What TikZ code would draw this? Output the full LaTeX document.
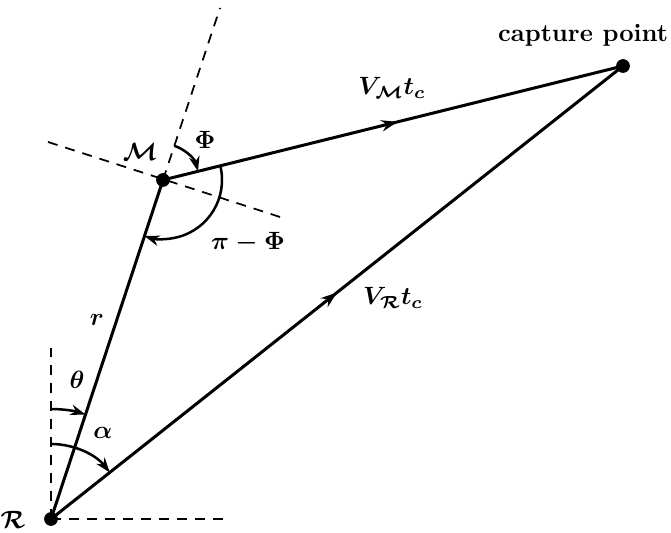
\documentclass[tikz,border=0pt]{standalone}
\usepackage{amsmath}
\usepackage{tikz}
\usetikzlibrary{arrows.meta, decorations.markings}

\begin{document}
\begin{tikzpicture}[x=0.4pt, y=0.4pt,
            % Set global font for all labels
            font=\boldmath,
            % Define reusable styles for the elements of the sketch
            leg/.style={line width=1.2pt},
            guide/.style={line width=0.7pt, dash pattern=on 4pt off 3.2pt},
            angarrow/.style={line width=1pt, -{Stealth[length=6pt, width=4.2pt]}},
            midarrow/.style={leg, postaction={decorate},
                decoration={markings, mark=at position #1 with {\arrow{Stealth[length=6.5pt, width=4.5pt]}}}},
            dot/.style={circle, fill, inner sep=0pt, minimum size=5.5pt}
        ]
        \useasboundingbox (0,0) rectangle (671,532);

        % Points of the triangle
        \node[dot] (R) at (51,13) {};
        \node[dot] (M) at (163,352) {};
        \node[dot] (C) at (623,466) {};

        % Reference lines
        \coordinate (Rup) at (51,184);
        \coordinate (Rright) at (227,13);
        \coordinate (Mext) at (220,524);
        \coordinate (Mleft) at (48,390);
        \coordinate (Mright) at (280,315);
        \draw[guide] (R.center) -- (Rup);
        \draw[guide] (R.center) -- (Rright);
        \draw[guide] (M.center) -- (Mext);
        \draw[guide] (Mleft) -- (Mright);

        % Sides
        \draw[leg] (R.center) -- (M.center);
        \draw[midarrow=0.51] (M.center) -- (C.center);
        \draw[midarrow=0.5] (R.center) -- (C.center);

        % Angles
        \draw[angarrow] ([shift={(90:110)}]R.center) arc[start angle=90, end angle=71.7, radius=110];
        \draw[angarrow] ([shift={(90:75)}]R.center) arc[start angle=90, end angle=38.4, radius=75];
        \draw[angarrow] ([shift={(71.7:36)}]M.center) arc[start angle=71.7, end angle=13.9, radius=36];
        \draw[angarrow] ([shift={(13.9:59)}]M.center) arc[start angle=13.9, end angle=-108.3, radius=59];

        % Labels
        \node (lcapture) at (583,497) {\bfseries capture point};
        \node (lvm) at (392,444) {$V_{\mathcal{M}}t_c$};
        \node (lvr) at (393,234) {$V_{\mathcal{R}}t_c$};
        \node (lm) at (140,380) {$\mathcal{M}$};
        \node (lr) at (13,12) {$\mathcal{R}$};
        \node (lphi) at (205,392) {$\Phi$};
        \node (lpiphi) at (248,289) {$\pi-\Phi$};
        \node (lrad) at (97,212) {$r$};
        \node (ltheta) at (77,152) {$\theta$};
        \node (lalpha) at (103,99) {$\alpha$};

\end{tikzpicture}
\end{document}
